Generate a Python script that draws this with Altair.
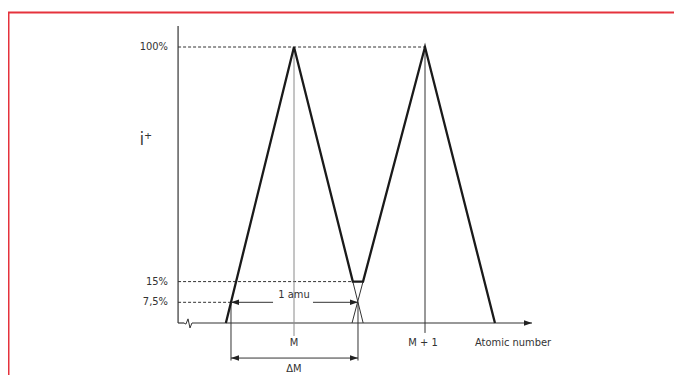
import altair as alt
import pandas as pd

# ---------------- data (x in mass units: M = 0, M + 1 = 1; y in % of i+) ----------------
peak_pos = [0.0, 1.0]
peak_labels = ["M", "M + 1"]
peak_line_bottom = [-4.7, -3.6]
peak_line_colors = ["#8a8a8a", "#333333"]

levels = [100, 15, 7.5]
level_labels = ["100%", "15%", "7,5%"]
level_dash_end = [1.0, 0.449, -0.481]

env_x = [-0.52, 0.0, 0.449, 0.527, 1.0, 1.534]
env_y = [0, 100, 15, 15, 100, 0]

tail_x = [0.449, 0.527]
tail_y = [15, 15]
tail_x2 = [0.528, 0.443]
tail_y2 = [0, 0]

amu_left = -0.481
amu_right = 0.4885
amu_level = 7.5
amu_gap = [-0.16, 0.145]
dm_level = -12.7
dm_bottom = -13.6

yaxis_x = -0.885
yaxis_top = 107.6
xaxis_end = 1.817
brk_x = [-0.840, -0.825, -0.809, -0.794, -0.779]
brk_y = [0, -0.4, 1.5, -1.8, 0]

FONT = "'Liberation Sans Narrow', 'DejaVu Sans Condensed', 'Arial Narrow', Roboto, sans-serif"
TXT = "#333333"

W, H = 666, 367
xs = alt.Scale(domain=[-286 / 131, (W - 286) / 131], nice=False, zero=False)
ys = alt.Scale(domain=[-(H - 315) / 2.76, 315 / 2.76], nice=False, zero=False)


def X(f="x"):
    return alt.X(f"{f}:Q", scale=xs, axis=None)


def Y(f="y"):
    return alt.Y(f"{f}:Q", scale=ys, axis=None)


def rules(df, color="#222222", width=1.0, dash=None):
    kw = dict(color=color, strokeWidth=width)
    if dash:
        kw["strokeDash"] = dash
    return alt.Chart(df).mark_rule(**kw).encode(
        x=X("x"), x2="x2:Q", y=Y("y"), y2="y2:Q")


layers = []

# axes
layers.append(rules(pd.DataFrame({"x": [yaxis_x], "x2": [yaxis_x], "y": [0], "y2": [yaxis_top]}),
                    color="#333333", width=1.2))
layers.append(rules(pd.DataFrame({"x": [yaxis_x, brk_x[-1]], "x2": [brk_x[0], xaxis_end],
                                  "y": [0, 0], "y2": [0, 0]}), color="#333333", width=1.2))
brk = pd.DataFrame({"x": brk_x, "y": brk_y, "o": range(len(brk_x))})
layers.append(alt.Chart(brk).mark_line(color="#333333", strokeWidth=1).encode(
    x=X(), y=Y(), order="o:Q"))

# dashed level lines
lv = pd.DataFrame({"x": [yaxis_x] * 3, "x2": level_dash_end, "y": levels, "y2": levels})
layers.append(rules(lv, color="#333333", width=1, dash=[3, 2]))

# vertical lines at M and M+1
for p, b, c in zip(peak_pos, peak_line_bottom, peak_line_colors):
    layers.append(rules(pd.DataFrame({"x": [p], "x2": [p], "y": [100], "y2": [b]}), color=c, width=1))

# vertical lines at 7.5% crossings
layers.append(rules(pd.DataFrame({"x": [amu_left, amu_right], "x2": [amu_left, amu_right],
                                  "y": [amu_level, amu_level], "y2": [dm_bottom, dm_bottom]}),
                    color="#333333", width=1))

# thin tails below 15%
layers.append(rules(pd.DataFrame({"x": tail_x, "x2": tail_x2, "y": tail_y, "y2": tail_y2}),
                    color="#333333", width=1))

# thick envelope
env = pd.DataFrame({"x": env_x, "y": env_y, "o": range(len(env_x))})
layers.append(alt.Chart(env).mark_line(color="#1a1a1a", strokeWidth=2.3, strokeJoin="miter").encode(
    x=X(), y=Y(), order="o:Q"))

# 1 amu arrow
layers.append(rules(pd.DataFrame({"x": [amu_left, amu_gap[1]], "x2": [amu_gap[0], amu_right],
                                  "y": [amu_level] * 2, "y2": [amu_level] * 2}), color="#333333", width=1))
# delta M arrow
layers.append(rules(pd.DataFrame({"x": [amu_left], "x2": [amu_right], "y": [dm_level], "y2": [dm_level]}),
                    color="#333333", width=1))

LEFT = "M0,0 L2,-0.7 L2,0.7 Z"
RIGHT = "M0,0 L-2,-0.7 L-2,0.7 Z"
heads = pd.DataFrame({
    "x": [amu_left, amu_right, amu_left, amu_right, xaxis_end],
    "y": [amu_level, amu_level, dm_level, dm_level, 0],
    "s": [LEFT, RIGHT, LEFT, RIGHT, RIGHT],
})
layers.append(alt.Chart(heads).mark_point(filled=True, color="#222222", size=64, opacity=1).encode(
    x=X(), y=Y(), shape=alt.Shape("s:N", scale=None)))

# texts
ylab = pd.DataFrame({"x": [-0.962] * 3, "y": levels, "t": level_labels})
layers.append(alt.Chart(ylab).mark_text(align="right", baseline="middle", font=FONT, fontSize=11,
                                        color=TXT).encode(x=X(), y=Y(), text="t:N"))

xlab = pd.DataFrame({"x": [0.0, 0.985, 1.672, 0.0, 0.0],
                     "y": [-7.25, -7.25, -7.25, 10.1, -16.6],
                     "t": peak_labels + ["Atomic number", "1 amu", "ΔM"]})
layers.append(alt.Chart(xlab).mark_text(align="center", baseline="middle", font=FONT, fontSize=11,
                                        color=TXT).encode(x=X(), y=Y(), text="t:N"))

ilab = pd.DataFrame({"x": [-1.13], "y": [66.3], "t": ["i⁺"]})
layers.append(alt.Chart(ilab).mark_text(align="center", baseline="middle", font=FONT, fontSize=17,
                                        color=TXT).encode(x=X(), y=Y(), text="t:N"))

# red frame (decoration)
frame = pd.DataFrame({"a": [0]})
layers.append(alt.Chart(frame).mark_rule(color="#e5323c", strokeWidth=2).encode(
    x=alt.value(0), x2=alt.value(W), y=alt.value(4.5), y2=alt.value(4.5)))
layers.append(alt.Chart(frame).mark_rule(color="#e5323c", strokeWidth=2).encode(
    x=alt.value(0.5), x2=alt.value(0.5), y=alt.value(4.5), y2=alt.value(H)))

chart = alt.layer(*layers).properties(
    width=W, height=H, padding=0, autosize=alt.AutoSizeParams(type="none")
).configure_view(stroke=None)

chart.save("out.html", embed_options={"renderer": "svg", "actions": False})
